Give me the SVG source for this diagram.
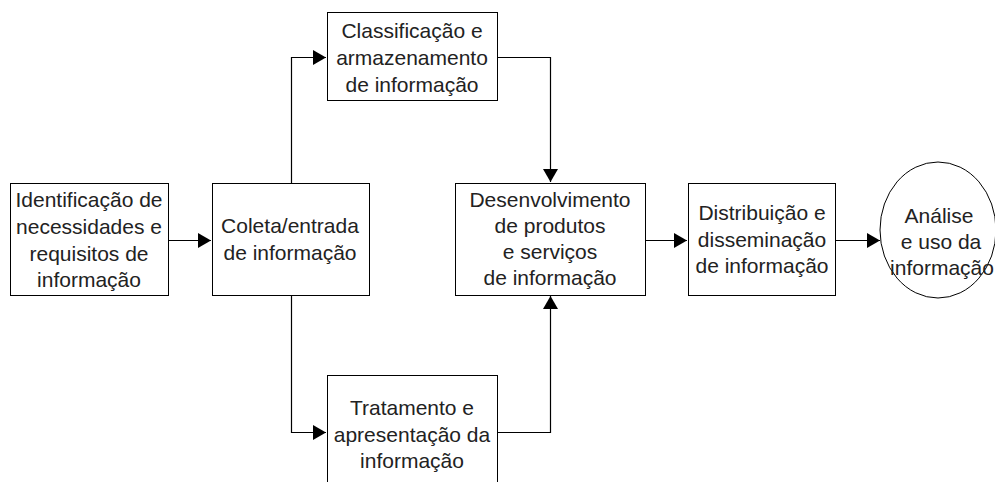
<svg xmlns="http://www.w3.org/2000/svg" width="995" height="482" viewBox="0 0 995 482">
<defs>
<marker id="arr" markerUnits="userSpaceOnUse" markerWidth="14" markerHeight="16" refX="13" refY="7.5" orient="auto">
<path d="M0,0 L13,7.5 L0,15 z" fill="#000"/>
</marker>
<style>
.box{fill:#fff;stroke:#000;stroke-width:1}
.t{font-family:"Liberation Sans",Arial,sans-serif;font-size:21px;fill:#222;text-anchor:middle}
.c{fill:none;stroke:#000;stroke-width:1.2;marker-end:url(#arr)}
</style>
</defs>
<rect width="995" height="482" fill="#fff"/>
<g id="connectors">
<path class="c" d="M168.5,240.5 H211"/>
<path class="c" d="M291.5,183 V57.5 H326"/>
<path class="c" d="M497,57.5 H550.5 V182"/>
<path class="c" d="M291.5,295 V432.5 H326"/>
<path class="c" d="M497,432.5 H550.5 V296"/>
<path class="c" d="M645,240.5 H687"/>
<path class="c" d="M835,240.5 H880"/>
</g>
<g id="n1">
<rect class="box" x="10.5" y="183.5" width="158" height="112"/>
<text class="t" x="89" y="207">Identificação de</text>
<text class="t" x="89" y="234">necessidades e</text>
<text class="t" x="89" y="261">requisitos de</text>
<text class="t" x="89" y="287">informação</text>
</g>
<g id="n2">
<rect class="box" x="212.5" y="183.5" width="157" height="112"/>
<text class="t" x="290" y="233">Coleta/entrada</text>
<text class="t" x="290" y="260">de informação</text>
</g>
<g id="n3">
<rect class="box" x="327.5" y="12.5" width="170" height="88"/>
<text class="t" x="412" y="38">Classificação e</text>
<text class="t" x="412" y="65">armazenamento</text>
<text class="t" x="412" y="92">de informação</text>
</g>
<g id="n4">
<rect class="box" x="327.5" y="375.5" width="170" height="120"/>
<text class="t" x="412" y="415">Tratamento e</text>
<text class="t" x="412" y="442">apresentação da</text>
<text class="t" x="412" y="468">informação</text>
</g>
<g id="n5">
<rect class="box" x="455.5" y="183.5" width="190" height="112"/>
<text class="t" x="550" y="207">Desenvolvimento</text>
<text class="t" x="550" y="233">de produtos</text>
<text class="t" x="550" y="259">e serviços</text>
<text class="t" x="550" y="285">de informação</text>
</g>
<g id="n6">
<rect class="box" x="688.5" y="183.5" width="147" height="112"/>
<text class="t" x="762" y="220">Distribuição e</text>
<text class="t" x="762" y="247">disseminação</text>
<text class="t" x="762" y="273">de informação</text>
</g>
<g id="n7">
<ellipse class="box" cx="938" cy="230" rx="58" ry="68"/>
<text class="t" x="939" y="223">Análise</text>
<text class="t" x="941" y="249">e uso da</text>
<text class="t" x="942" y="275">informação</text>
</g>
</svg>
